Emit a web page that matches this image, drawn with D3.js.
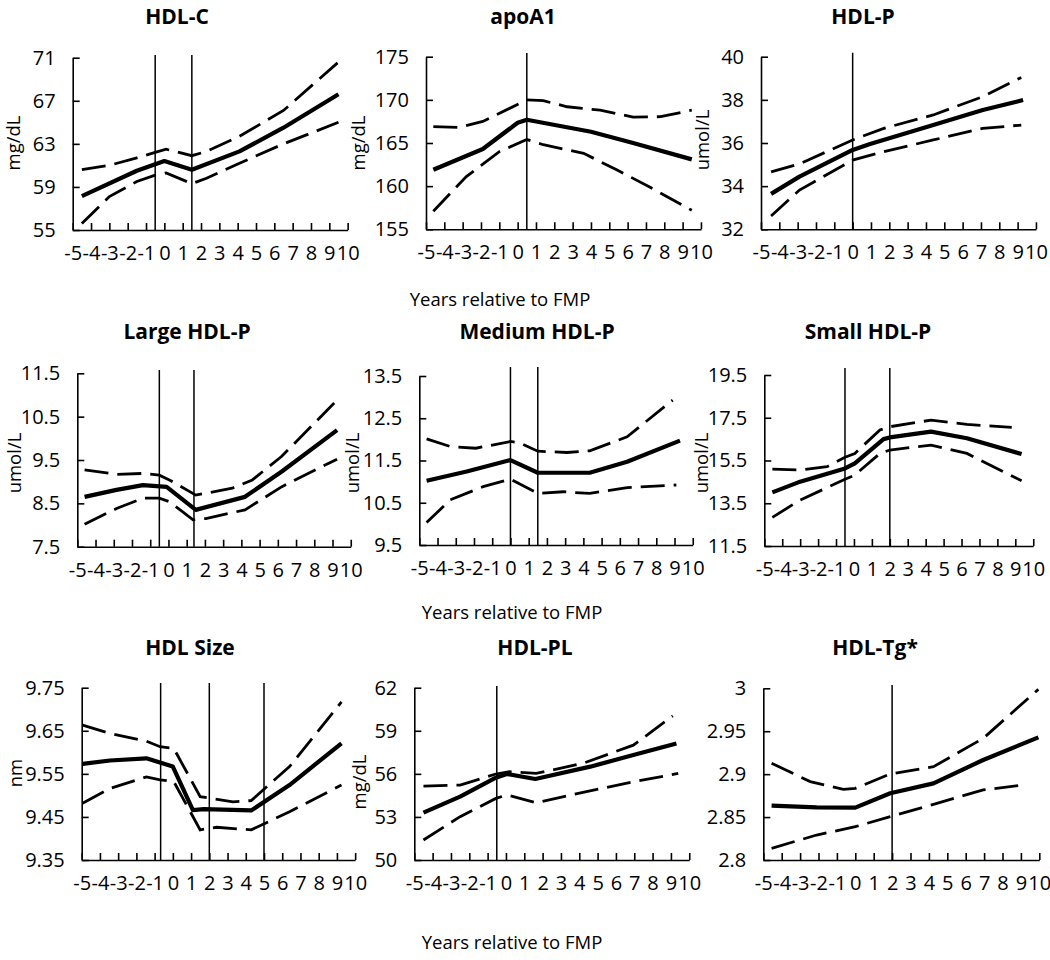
<!DOCTYPE html>
<html>
<head>
<meta charset="utf-8">
<script src="https://cdn.jsdelivr.net/npm/d3@7"></script>
<style>
  body { margin: 0; background: #fff; }
  svg { display: block; font-family: 'Open Sans', sans-serif; }
  .axis path, .axis line { stroke: #000; stroke-width: 1.6; }
  .axis text { font-size: 20px; fill: #000; font-family: 'Open Sans', sans-serif; }
</style>
</head>
<body>
<svg id="chart" width="1050" height="960"></svg>
<script>
// x categories (years relative to FMP)
const xTickLabels = [-5, -4, -3, -2, -1, 0, 1, 2, 3, 4, 5, 6, 7, 8, 9, 10];

// HDL-C (mg/dL)
const hdlcTicks = [55, 59, 63, 67, 71];
const hdlcKnots = [-0.5, 1.5];
const hdlcMean = [[-4.5, 58.15], [-1.5, 60.5], [-0.5, 61.1], [0, 61.4], [1.5, 60.6], [4.1, 62.3], [6.5, 64.5], [9.5, 67.6]];
const hdlcUpper = [[-4.5, 60.6], [-3, 61.0], [-1.5, 61.7], [-0.5, 62.2], [0.1, 62.5], [1.5, 61.9], [2.3, 62.3], [4.1, 63.7], [6.5, 66.1], [9.5, 70.6]];
const hdlcLower = [[-4.5, 55.6], [-3, 58.1], [-1.5, 59.5], [-0.5, 60.1], [0.1, 60.3], [1.5, 59.3], [2.3, 59.8], [4.1, 61.2], [6.5, 63.0], [9.5, 65.0]];

// apoA1 (mg/dL)
const apoTicks = [155, 160, 165, 170, 175];
const apoKnots = [0.5];
const apoMean = [[-4.6, 161.9], [-1.9, 164.3], [0, 167.35], [0.5, 167.7], [4, 166.3], [6.3, 165.0], [9.5, 163.1]];
const apoUpper = [[-4.6, 166.9], [-3.2, 166.8], [-1.9, 167.5], [0.5, 170.0], [1.4, 169.9], [2.7, 169.2], [4.5, 168.8], [6.3, 168.0], [7.8, 168.05], [9.5, 168.8]];
const apoLower = [[-4.6, 157.1], [-2.8, 161.1], [-1, 164.0], [0.5, 165.4], [1.4, 164.8], [3.6, 163.8], [5.4, 161.9], [7.2, 159.9], [9.5, 157.2]];

// HDL-P (umol/L)
const hdlpTicks = [32, 34, 36, 38, 40];
const hdlpKnots = [0];
const hdlpMean = [[-4.45, 33.64], [-2.9, 34.44], [0, 35.68], [0.95, 35.95], [4.4, 36.83], [7.1, 37.53], [9.3, 37.99]];
const hdlpUpper = [[-4.45, 34.66], [-2.9, 35.03], [0, 36.14], [1.7, 36.68], [4.4, 37.3], [7.1, 38.15], [9.2, 39.04]];
const hdlpLower = [[-4.45, 32.62], [-2.9, 33.82], [0, 35.21], [1.7, 35.6], [4.4, 36.14], [7.1, 36.68], [9.2, 36.83]];

// Large HDL-P (umol/L)
const largeTicks = [7.5, 8.5, 9.5, 10.5, 11.5];
const largeKnots = [-0.5, 1.4];
const largeMean = [[-4.6, 8.65], [-2.85, 8.81], [-1.4, 8.92], [-0.1, 8.88], [1.5, 8.35], [4.2, 8.65], [6.2, 9.23], [9.25, 10.19]];
const largeUpper = [[-4.6, 9.27], [-2.85, 9.17], [-1.4, 9.19], [-0.5, 9.15], [0.05, 9.04], [1.5, 8.69], [3.5, 8.85], [4.6, 9.04], [6.2, 9.58], [9.25, 10.88]];
const largeLower = [[-4.6, 8.02], [-2.85, 8.38], [-1.4, 8.62], [-0.5, 8.62], [0.05, 8.54], [1.35, 8.12], [2.05, 8.15], [4.2, 8.35], [6.2, 8.88], [9.25, 9.52]];

// Medium HDL-P (umol/L)
const mediumTicks = [9.5, 10.5, 11.5, 12.5, 13.5];
const mediumKnots = [0, 1.5];
const mediumMean = [[-4.6, 11.02], [-2.4, 11.24], [0, 11.51], [1.5, 11.21], [4.35, 11.21], [6.4, 11.47], [9.3, 11.97]];
const mediumUpper = [[-4.6, 12.01], [-3.3, 11.83], [-1.9, 11.79], [0, 11.95], [0.5, 11.92], [1.5, 11.72], [3.1, 11.69], [4.35, 11.73], [6.4, 12.06], [8.9, 12.93]];
const mediumLower = [[-4.6, 10.03], [-3.3, 10.57], [-1.5, 10.88], [0, 11.06], [1.5, 10.72], [2.9, 10.76], [4.35, 10.72], [6.4, 10.86], [9.1, 10.92]];

// Small HDL-P (umol/L)
const smallTicks = [11.5, 13.5, 15.5, 17.5, 19.5];
const smallKnots = [-0.5, 2];
const smallMean = [[-4.55, 14.01], [-3, 14.51], [-0.5, 15.13], [0.05, 15.37], [1.65, 16.5], [2, 16.58], [4.3, 16.85], [6.3, 16.54], [9.35, 15.8]];
const smallUpper = [[-4.55, 15.1], [-3, 15.05], [-1.5, 15.21], [-0.5, 15.65], [0.05, 15.83], [1.45, 16.93], [2, 17.08], [4.3, 17.39], [6.3, 17.19], [8.8, 17.05]];
const smallLower = [[-4.55, 12.84], [-3, 13.65], [-0.5, 14.62], [0.05, 14.82], [1.45, 15.83], [2, 15.99], [4.3, 16.22], [6.3, 15.83], [9.35, 14.55]];

// HDL Size (nm)
const sizeTicks = [9.35, 9.45, 9.55, 9.65, 9.75];
const sizeKnots = [-0.67, 2, 5];
const sizeMean = [[-4.95, 9.573], [-3.45, 9.581], [-1.45, 9.586], [0, 9.567], [1.1, 9.466], [1.7, 9.468], [4.3, 9.465], [6.4, 9.524], [9.25, 9.621]];
const sizeUpper = [[-4.95, 9.663], [-3.45, 9.644], [-1.45, 9.626], [-0.7, 9.613], [0.05, 9.609], [1.5, 9.497], [3.3, 9.485], [4.3, 9.488], [6.4, 9.567], [9.25, 9.717]];
const sizeLower = [[-4.95, 9.482], [-3.45, 9.516], [-1.45, 9.543], [-0.7, 9.536], [0.05, 9.532], [1.5, 9.42], [2.4, 9.426], [4.3, 9.42], [6.4, 9.462], [9.25, 9.524]];

// HDL-PL (mg/dL)
const plTicks = [50, 53, 56, 59, 62];
const plKnots = [-0.5];
const plMean = [[-4.5, 53.3], [-2.5, 54.41], [-0.55, 55.73], [0.05, 55.99], [1.6, 55.64], [4.6, 56.5], [6.95, 57.31], [9.3, 58.12]];
const plUpper = [[-4.5, 55.15], [-2.5, 55.22], [-0.55, 55.99], [0.2, 56.15], [1.65, 56.03], [4.2, 56.73], [6.95, 58.0], [9.1, 60.03]];
const plLower = [[-4.5, 51.39], [-2.5, 53.02], [-0.55, 54.29], [0.05, 54.53], [1.65, 53.99], [4.2, 54.71], [6.95, 55.45], [9.4, 56.03]];

// HDL-Tg*
const tgTicks = [2.8, 2.85, 2.9, 2.95, 3];
const tgKnots = [2];
const tgMean = [[-4.55, 2.8633], [-2.1, 2.8613], [0, 2.861], [1.9, 2.8777], [4.25, 2.8893], [6.95, 2.9165], [9.95, 2.9429]];
const tgUpper = [[-4.55, 2.9126], [-3.4, 2.901], [-2.45, 2.8913], [-0.65, 2.8823], [0, 2.8835], [1.9, 2.9002], [4.25, 2.9087], [6.95, 2.9417], [9.95, 2.9988]];
const tgLower = [[-4.55, 2.8136], [-2.1, 2.8291], [0, 2.8388], [1.9, 2.8505], [4.25, 2.8649], [6.95, 2.8816], [8.85, 2.8866]];

const titles = ['HDL-C', 'apoA1', 'HDL-P', 'Large HDL-P', 'Medium HDL-P', 'Small HDL-P', 'HDL Size', 'HDL-PL', 'HDL-Tg*'];
const units = ['mg/dL', 'mg/dL', 'umol/L', 'umol/L', 'umol/L', 'umol/L', 'nm', 'mg/dL', ''];
const xTitle = 'Years relative to FMP';

// layout: y-axis x, top/bottom pixel of y range, px per year, title and unit label centres, top of knot lines
const layout = [
  { left: 72.7, top: 57.7, bottom: 230, step: 18.33, tx: 177, ty: 17, ux: 14, uy: 143, vTop: 55 },
  { left: 426, top: 56.7, bottom: 229.3, step: 18.33, tx: 523, ty: 17, ux: 359, uy: 143, vTop: 53 },
  { left: 761, top: 56.7, bottom: 229.3, step: 18.33, tx: 863, ty: 17, ux: 703, uy: 140, vTop: 52.7 },
  { left: 77.3, top: 373.3, bottom: 546.7, step: 18.23, tx: 187, ty: 332, ux: 15, uy: 463, vTop: 370 },
  { left: 419.3, top: 376, bottom: 545, step: 18.23, tx: 537, ty: 332, ux: 353, uy: 463, vTop: 367 },
  { left: 764.3, top: 375, bottom: 546, step: 17.93, tx: 868, ty: 332, ux: 702, uy: 463, vTop: 368 },
  { left: 81.7, top: 687.7, bottom: 860, step: 18.23, tx: 190, ty: 648, ux: 16, uy: 773, vTop: 683 },
  { left: 414.3, top: 687.7, bottom: 860, step: 18.33, tx: 535, ty: 648, ux: 360, uy: 782, vTop: 686 },
  { left: 763.3, top: 688.3, bottom: 860, step: 18.4, tx: 875, ty: 648, ux: 0, uy: 0, vTop: 685 }
];
const xTitlePos = [[500, 300], [512, 613], [512, 943]];

const panels = [
  { ticks: hdlcTicks, knots: hdlcKnots, mean: hdlcMean, upper: hdlcUpper, lower: hdlcLower },
  { ticks: apoTicks, knots: apoKnots, mean: apoMean, upper: apoUpper, lower: apoLower },
  { ticks: hdlpTicks, knots: hdlpKnots, mean: hdlpMean, upper: hdlpUpper, lower: hdlpLower },
  { ticks: largeTicks, knots: largeKnots, mean: largeMean, upper: largeUpper, lower: largeLower },
  { ticks: mediumTicks, knots: mediumKnots, mean: mediumMean, upper: mediumUpper, lower: mediumLower },
  { ticks: smallTicks, knots: smallKnots, mean: smallMean, upper: smallUpper, lower: smallLower },
  { ticks: sizeTicks, knots: sizeKnots, mean: sizeMean, upper: sizeUpper, lower: sizeLower },
  { ticks: plTicks, knots: plKnots, mean: plMean, upper: plUpper, lower: plLower },
  { ticks: tgTicks, knots: tgKnots, mean: tgMean, upper: tgUpper, lower: tgLower }
];

const svg = d3.select('#chart');

panels.forEach((p, i) => {
  const l = layout[i];
  const x = d3.scaleLinear()
    .domain([xTickLabels[0], xTickLabels[xTickLabels.length - 1]])
    .range([l.left, l.left + l.step * (xTickLabels.length - 1)]);
  const y = d3.scaleLinear()
    .domain(d3.extent(p.ticks))
    .range([l.bottom, l.top]);

  const g = svg.append('g').attr('class', 'panel');

  // knot lines
  g.selectAll('.knot')
    .data(p.knots)
    .enter()
    .append('line')
    .attr('class', 'knot')
    .attr('x1', d => x(d))
    .attr('x2', d => x(d))
    .attr('y1', l.vTop)
    .attr('y2', l.bottom)
    .attr('stroke', '#000')
    .attr('stroke-width', 1.5);

  g.append('g')
    .attr('class', 'axis')
    .attr('transform', `translate(0,${l.bottom})`)
    .call(d3.axisBottom(x).tickValues(xTickLabels).tickSizeInner(-7).tickSizeOuter(0).tickPadding(16).tickFormat(d => d));

  g.append('g')
    .attr('class', 'axis')
    .attr('transform', `translate(${l.left},0)`)
    .call(d3.axisLeft(y).tickValues(p.ticks).tickSizeInner(-7).tickSizeOuter(0).tickPadding(17).tickFormat(d => String(d)));

  const line = d3.line()
    .x(d => x(d[0]))
    .y(d => y(d[1]));

  g.append('path')
    .datum(p.upper)
    .attr('d', line)
    .attr('fill', 'none')
    .attr('stroke', '#000')
    .attr('stroke-width', 2.8)
    .attr('stroke-dasharray', '24,9');
  g.append('path')
    .datum(p.lower)
    .attr('d', line)
    .attr('fill', 'none')
    .attr('stroke', '#000')
    .attr('stroke-width', 2.8)
    .attr('stroke-dasharray', '24,9');
  g.append('path')
    .datum(p.mean)
    .attr('d', line)
    .attr('fill', 'none')
    .attr('stroke', '#000')
    .attr('stroke-width', 4.2)
    .attr('stroke-linejoin', 'round');

  g.append('text')
    .attr('x', l.tx)
    .attr('y', l.ty)
    .attr('dy', '0.35em')
    .attr('text-anchor', 'middle')
    .style('font-size', '21px')
    .style('font-weight', 'bold')
    .text(titles[i]);

  if (units[i]) {
    g.append('text')
      .attr('transform', `translate(${l.ux},${l.uy}) rotate(-90)`)
      .attr('dy', '0.35em')
      .attr('text-anchor', 'middle')
      .style('font-size', '18.5px')
      .text(units[i]);
  }
});

xTitlePos.forEach(([cx, cy]) => {
  svg.append('text')
    .attr('x', cx)
    .attr('y', cy)
    .attr('dy', '0.35em')
    .attr('text-anchor', 'middle')
    .style('font-size', '18.5px')
    .text(xTitle);
});
</script>
</body>
</html>
